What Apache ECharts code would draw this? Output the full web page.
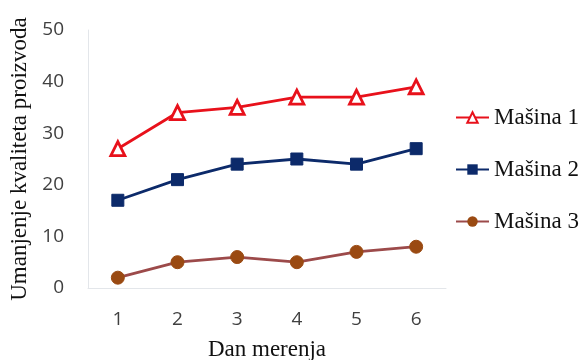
<!DOCTYPE html>
<html><head><meta charset="utf-8">
<script src="https://cdn.jsdelivr.net/npm/echarts@6/dist/echarts.min.js"></script>
<style>html,body{margin:0;padding:0;background:#fff}#c{width:585px;height:360px}</style>
</head><body><div id="c"></div>
<script>
const categories = ['1','2','3','4','5','6'];
const masina1 = [27, 34, 35, 37, 37, 39];
const masina2 = [17, 21, 24, 25, 24, 27];
const masina3 = [2, 5, 6, 5, 7, 8];
const seriesNames = ['Mašina 1','Mašina 2','Mašina 3'];

const chart = echarts.init(document.getElementById('c'));
chart.setOption({
  animation:false,
  grid:{left:88,right:139,top:30,bottom:72,containLabel:false,outerBoundsMode:'none'},
  legend:{
    orient:'vertical', left:450, top:101, itemGap:29, itemWidth:33, itemHeight:13,
    textStyle:{fontFamily:'Liberation Serif', fontSize:23, color:'#111'},
    data:seriesNames
  },
  xAxis:{
    type:'category', data:categories, boundaryGap:true,
    name:'Dan merenja', nameLocation:'middle', nameGap:50,
    nameTextStyle:{fontFamily:'Liberation Serif', fontSize:23, color:'#111'},
    axisLine:{lineStyle:{color:'#e3e6ea'}}, axisTick:{show:false},
    axisLabel:{fontFamily:'Open Sans', fontSize:19, color:'#404040', margin:22}
  },
  yAxis:{
    type:'value', min:0, max:50, interval:10,
    name:'Umanjenje kvaliteta proizvoda', nameLocation:'middle', nameGap:55,
    nameTextStyle:{fontFamily:'Liberation Serif', fontSize:23, color:'#111'},
    axisLine:{show:true, lineStyle:{color:'#e3e6ea'}}, axisTick:{show:false},
    splitLine:{show:false},
    axisLabel:{fontFamily:'Open Sans', fontSize:19, color:'#404040', margin:24}
  },
  series:[
    {name:seriesNames[0], type:'line', data:masina1, symbol:'triangle', symbolSize:14,
     lineStyle:{color:'#e8111b', width:2.8},
     itemStyle:{color:'#fff', borderColor:'#e8111b', borderWidth:2.8}},
    {name:seriesNames[1], type:'line', data:masina2, symbol:'rect', symbolSize:12,
     lineStyle:{color:'#0c2a6a', width:2.8},
     itemStyle:{color:'#0c2a6a', borderColor:'#0c2a6a'}},
    {name:seriesNames[2], type:'line', data:masina3, symbol:'circle', symbolSize:13,
     lineStyle:{color:'#9c4a4a', width:2.8},
     itemStyle:{color:'#9a4a12', borderColor:'#9a4a12'}}
  ]
});
</script></body></html>
